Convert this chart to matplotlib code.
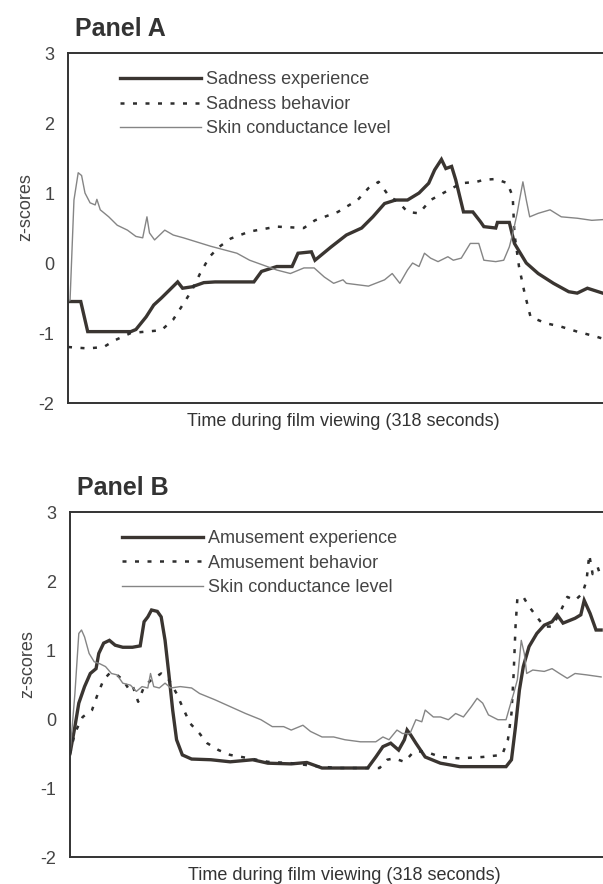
import matplotlib
matplotlib.use("Agg")
import matplotlib.pyplot as plt

plt.rcParams["font.family"] = ["Liberation Sans", "DejaVu Sans"]

# ---- Panel A: sadness film (time in seconds, values in z-scores) ----
sad_exp_t = [0, 7.5, 11.6, 37, 40, 46, 50.5, 55, 59.6, 64.6, 67.5, 73, 80, 86.6, 109.5, 114, 123, 132,
             135.5, 143.4, 145.5, 155, 164, 173, 179.6, 186.5, 193, 200, 206.8, 212.5, 216, 220, 222.6,
             226, 228.4, 233, 238.5, 243, 245, 252, 253, 260, 263, 270, 277, 286, 295, 300, 306, 315]
sad_exp_z = [-0.55, -0.55, -0.98, -0.98, -0.95, -0.77, -0.6, -0.5, -0.39, -0.27, -0.36, -0.34, -0.28,
             -0.27, -0.27, -0.12, -0.05, -0.05, 0.14, 0.16, 0.04, 0.23, 0.4, 0.5, 0.66, 0.85, 0.9, 0.9,
             1.0, 1.14, 1.33, 1.48, 1.35, 1.38, 1.19, 0.73, 0.73, 0.59, 0.52, 0.5, 0.58, 0.58, 0.28, 0.0,
             -0.15, -0.29, -0.41, -0.43, -0.36, -0.43]

sad_beh_t = [0, 11.6, 21, 27.9, 37, 55, 61.9, 67.5, 73, 77.8, 83.4, 89, 95.9, 107, 123, 138.9, 145.5,
             159, 170.6, 177, 183, 188.7, 195.5, 200, 206.8, 213.6, 222.6, 231.7, 240.8, 245, 252, 258.9,
             262, 263, 265.7, 269, 272.5, 281.5, 290.6, 300, 311, 315]
sad_beh_z = [-1.2, -1.22, -1.2, -1.1, -1.0, -0.96, -0.81, -0.6, -0.39, -0.15, 0.09, 0.23, 0.35, 0.45,
             0.52, 0.5, 0.61, 0.73, 0.9, 1.07, 1.16, 0.97, 0.85, 0.73, 0.71, 0.9, 1.02, 1.14, 1.16, 1.19,
             1.2, 1.14, 0.95, 0.42, -0.05, -0.43, -0.77, -0.86, -0.91, -0.98, -1.05, -1.08]

sad_scl_t = [0, 1.2, 3.5, 6, 8, 10, 13, 16, 17, 19, 24, 29, 35, 40, 44, 46.5, 48, 51, 57, 62, 68, 76,
             84, 99.5, 107, 115, 123, 131, 139, 145, 151, 156.5, 162, 164, 177, 186.5, 191, 195.5, 200,
             203, 206.8, 210, 213.6, 218, 223.8, 227, 231.7, 237, 242, 245, 252, 256.7, 260, 262, 264.6,
             266, 268, 270, 272, 277, 284, 290.6, 300, 308.6, 315]
sad_scl_z = [-0.55, -0.53, 0.9, 1.29, 1.25, 1.0, 0.86, 0.83, 0.91, 0.76, 0.66, 0.54, 0.47, 0.38, 0.36,
             0.66, 0.43, 0.33, 0.47, 0.4, 0.36, 0.3, 0.24, 0.14, 0.04, -0.03, -0.1, -0.15, -0.07, -0.07,
             -0.2, -0.29, -0.24, -0.29, -0.33, -0.24, -0.15, -0.29, -0.1, 0.0, -0.05, 0.14, 0.07, 0.02,
             0.09, 0.04, 0.07, 0.28, 0.28, 0.04, 0.02, 0.04, 0.23, 0.42, 0.71, 0.9, 1.16, 0.9, 0.66, 0.71,
             0.76, 0.66, 0.64, 0.61, 0.62]

# ---- Panel B: amusement film ----
amu_exp_t = [0, 2.9, 5.2, 8.6, 12, 15.4, 17, 19.9, 23.3, 26.7, 31.2, 36.9, 41.5, 43.8, 46, 48.2, 51.6,
             53.9, 56.2, 58.4, 60.7, 63, 66.4, 71.9, 83.3, 94.7, 108, 117, 130.8, 140, 149, 162.5, 176,
             180.8, 185, 189.6, 194.3, 197.7, 199.3, 201.4, 204.5, 210, 219, 230.5, 244, 257.8, 261,
             263.4, 265.7, 268, 271.4, 276, 280.4, 285, 288, 291.5, 298.6, 302, 304, 307.5, 311, 314]
amu_exp_z = [-0.5, -0.11, 0.23, 0.47, 0.66, 0.73, 0.95, 1.1, 1.14, 1.07, 1.04, 1.04, 1.06, 1.41, 1.48,
             1.58, 1.56, 1.48, 1.14, 0.66, 0.13, -0.3, -0.52, -0.58, -0.59, -0.62, -0.59, -0.64, -0.65,
             -0.63, -0.71, -0.71, -0.71, -0.55, -0.4, -0.35, -0.45, -0.3, -0.16, -0.23, -0.35, -0.55,
             -0.64, -0.69, -0.69, -0.69, -0.59, -0.11, 0.42, 0.76, 1.05, 1.24, 1.36, 1.41, 1.51, 1.39,
             1.46, 1.51, 1.72, 1.53, 1.29, 1.29]

amu_beh_t = [0, 2.9, 7.5, 13, 16.5, 19.9, 23.3, 26.7, 31.2, 34.6, 36.9, 40.3, 43.8, 48.2, 53.9, 58.4,
             63, 66.4, 70.9, 76.6, 81.1, 87.8, 94.7, 106, 117, 130.8, 144.3, 157.9, 171.7, 183, 187.5,
             191.7, 197.7, 203.4, 210, 219, 230.5, 244, 255.5, 258.9, 261, 262.3, 263.4, 264.5, 268,
             271.4, 276, 280.4, 285, 289.4, 294, 298.6, 303, 305.4, 307, 309, 312, 314]
amu_beh_z = [-0.5, -0.2, 0.03, 0.13, 0.37, 0.57, 0.66, 0.66, 0.57, 0.44, 0.49, 0.25, 0.47, 0.57, 0.66,
             0.57, 0.37, 0.18, -0.06, -0.21, -0.35, -0.45, -0.52, -0.57, -0.62, -0.64, -0.68, -0.71,
             -0.71, -0.71, -0.59, -0.57, -0.62, -0.47, -0.47, -0.55, -0.57, -0.55, -0.52, -0.3, 0.08,
             0.66, 1.34, 1.75, 1.77, 1.63, 1.48, 1.34, 1.34, 1.53, 1.77, 1.72, 1.82, 2.01, 2.38, 2.1,
             2.2, 2.05]

amu_scl_t = [0, 2.9, 5.2, 6.8, 8.6, 11.3, 14.3, 17.7, 21, 24.5, 27.8, 31.2, 35.8, 39.2, 42.6, 46, 47.6,
             49.5, 52.8, 56.2, 59.5, 65.2, 71.9, 76.6, 85.6, 94.7, 103.8, 112.9, 119.6, 126.3, 130.8,
             137.7, 142.2, 149, 155.9, 162.5, 171.7, 180.8, 185, 188.6, 193.3, 196.6, 201, 204.5, 208,
             210, 214.8, 219, 223.7, 228, 232.6, 237.3, 240.7, 244, 247.4, 253, 257.8, 260, 262.3,
             264.5, 266.8, 268.6, 270, 273.6, 280.4, 285, 289.4, 294, 298.6, 305.4, 314]
amu_scl_z = [-0.5, 0.37, 1.24, 1.29, 1.19, 0.95, 0.83, 0.8, 0.76, 0.66, 0.64, 0.52, 0.49, 0.4, 0.47,
             0.45, 0.66, 0.47, 0.45, 0.52, 0.45, 0.47, 0.45, 0.37, 0.28, 0.18, 0.08, -0.01, -0.11, -0.11,
             -0.16, -0.09, -0.18, -0.26, -0.26, -0.3, -0.33, -0.33, -0.26, -0.3, -0.16, -0.21, -0.21,
             -0.01, -0.04, 0.13, 0.03, 0.03, -0.01, 0.08, 0.03, 0.18, 0.3, 0.23, 0.06, -0.01, -0.01, 0.18,
             0.37, 0.57, 1.14, 0.95, 0.66, 0.71, 0.69, 0.73, 0.66, 0.59, 0.66, 0.64, 0.61]

labels_a = ["Sadness experience", "Sadness behavior", "Skin conductance level"]
labels_b = ["Amusement experience", "Amusement behavior", "Skin conductance level"]
y_ticks = [-2, -1, 0, 1, 2, 3]

thick_col = "#3a3531"
dot_col = "#2e2e2e"
thin_col = "#858585"
txt_col = "#444444"

fig = plt.figure(figsize=(6.03, 8.84), dpi=100)
ax_a = fig.add_axes([0.1128, 0.5441, 0.912, 0.3959])
ax_b = fig.add_axes([0.1161, 0.0305, 0.9088, 0.3903])


def draw_panel(ax, series, labels, title):
    (t1, z1), (t2, z2), (t3, z3) = series
    ax.plot(t1, z1, color=thick_col, lw=2.4, label=labels[0], solid_joinstyle="miter")
    ax.plot(t2, z2, color=dot_col, lw=1.8, linestyle=(0, (1.6, 3.4)), label=labels[1])
    ax.plot(t3, z3, color=thin_col, lw=1.0, label=labels[2])
    ax.set_xlim(0, 324)
    ax.set_ylim(-2, 3)
    ax.set_yticks(y_ticks)
    ax.set_yticklabels([str(v) for v in y_ticks])
    ax.set_xticks([])
    ax.tick_params(axis="y", length=0, pad=10, labelsize=13, labelcolor=txt_col)
    for side in ["left", "top", "bottom"]:
        ax.spines[side].set_color("#333333")
        ax.spines[side].set_linewidth(1.4)
    ax.spines["right"].set_visible(False)
    ax.set_ylabel("z-scores", fontsize=13, color=txt_col)
    ax.yaxis.set_label_coords(-0.062, 0.56)
    ax.set_xlabel("Time during film viewing (318 seconds)", fontsize=13, color="#333333", labelpad=7)
    ax.text(0.012, 1.035, title, transform=ax.transAxes, fontsize=18, fontweight="bold",
            color="#333333", ha="left", va="bottom")
    leg = ax.legend(loc="upper left", bbox_to_anchor=(0.094, 0.948), frameon=False,
                    fontsize=13, handlelength=4.5, handletextpad=0.3, labelspacing=0.42,
                    borderpad=0, borderaxespad=0)
    for t in leg.get_texts():
        t.set_color(txt_col)


draw_panel(ax_a, [(sad_exp_t, sad_exp_z), (sad_beh_t, sad_beh_z), (sad_scl_t, sad_scl_z)],
           labels_a, "Panel A")
draw_panel(ax_b, [(amu_exp_t, amu_exp_z), (amu_beh_t, amu_beh_z), (amu_scl_t, amu_scl_z)],
           labels_b, "Panel B")

fig.savefig("out.png", dpi=100)
